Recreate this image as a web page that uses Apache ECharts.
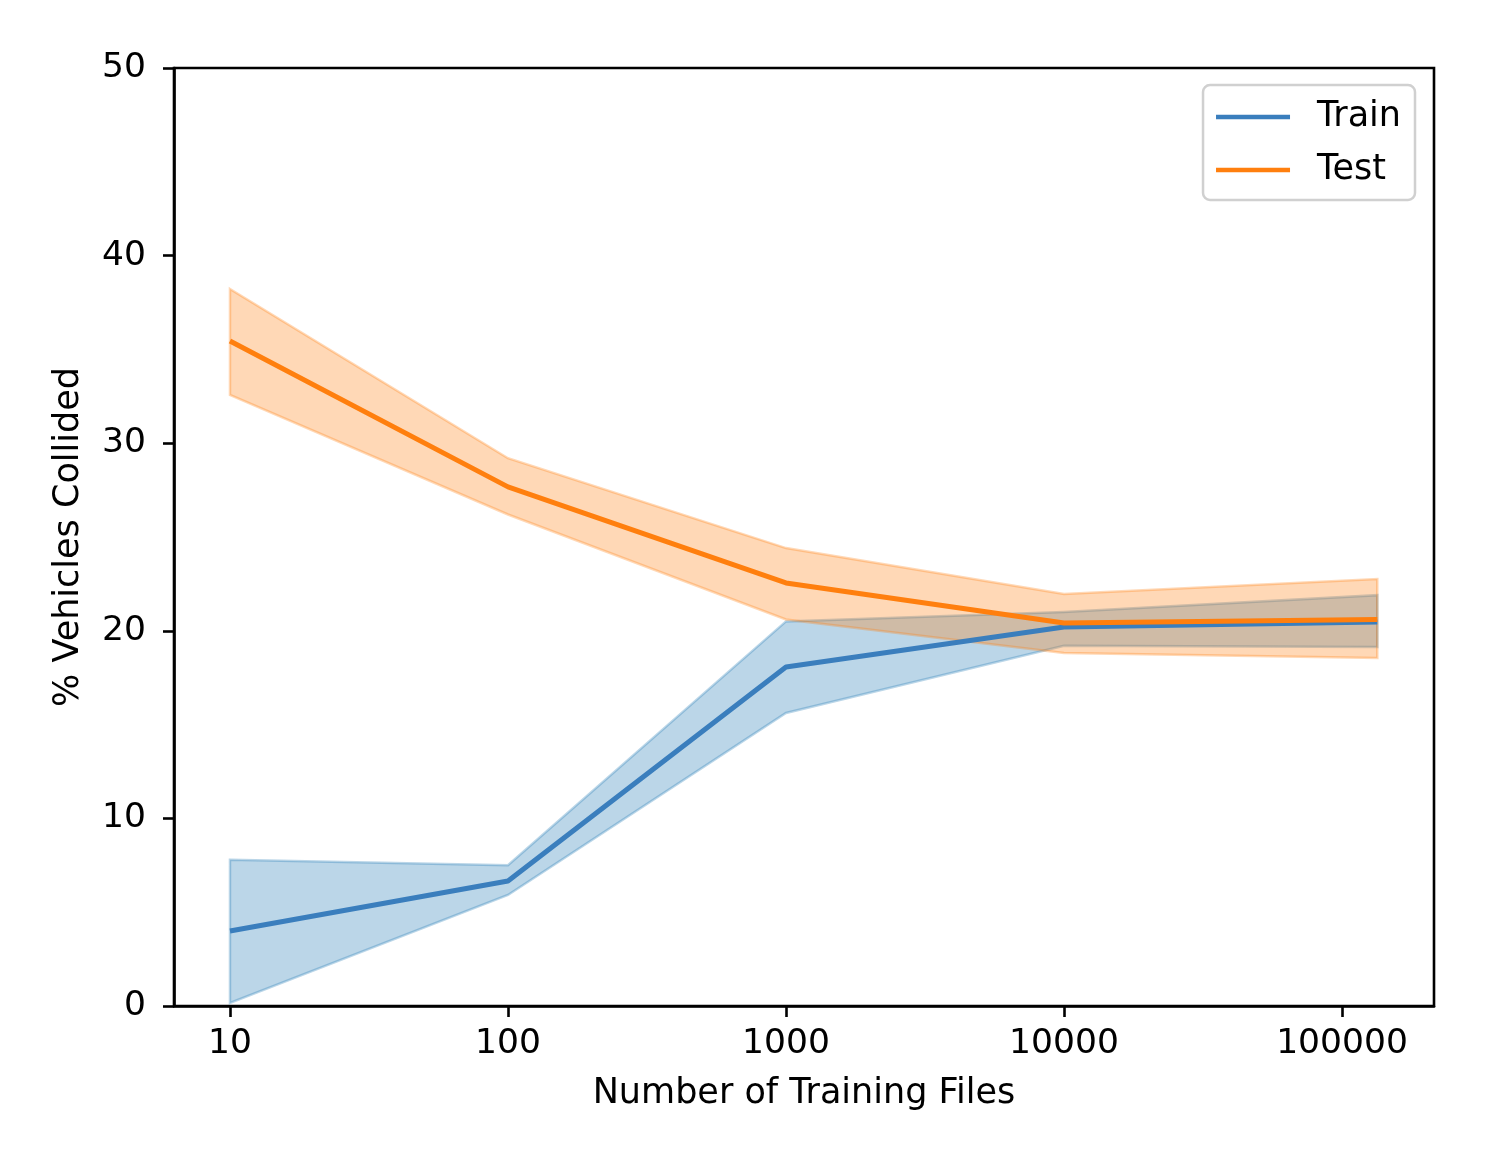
<!DOCTYPE html>
<html>
<head>
<meta charset="utf-8">
<script src="https://cdn.jsdelivr.net/npm/echarts@6/dist/echarts.min.js"></script>
<style>html,body{margin:0;padding:0;background:#fff}#c{width:1487px;height:1168px}</style>
</head>
<body>
<div id="c"></div>
<script>
const trainingFiles = [10, 100, 1000, 10000, 134000];
const xTicks = [10, 100, 1000, 10000, 100000];
const trainMean  = [4.0, 6.66, 18.07, 20.2, 20.47];
const trainUpper = [7.8, 7.5, 20.5, 21.0, 21.9];
const trainLower = [0.16, 5.92, 15.62, 19.2, 19.14];
const testMean   = [35.45, 27.67, 22.55, 20.42, 20.6];
const testUpper  = [38.22, 29.2, 24.41, 21.96, 22.76];
const testLower  = [32.57, 26.2, 20.6, 18.82, 18.55];

const FONT = 'DejaVu Sans';
const BLUE = '#3a7ebd', ORANGE = '#ff7f0e';

function bandSeries(name, upper, lower, rgb) {
  return {
    name: name, type: 'custom', z: 1, silent: true,
    data: [0],
    renderItem: function (params, api) {
      const pts = [];
      for (let i = 0; i < trainingFiles.length; i++) pts.push(api.coord([trainingFiles[i], upper[i]]));
      for (let i = trainingFiles.length - 1; i >= 0; i--) pts.push(api.coord([trainingFiles[i], lower[i]]));
      return {
        type: 'polygon', shape: { points: pts },
        style: { fill: 'rgba(' + rgb + ',0.3)', stroke: 'rgba(' + rgb + ',0.3)', lineWidth: 2.5 }
      };
    }
  };
}
function pairs(ys) { return trainingFiles.map((x, i) => [x, ys[i]]); }

const chart = echarts.init(document.getElementById('c'));
chart.setOption({
  animation: false,
  backgroundColor: '#fff',
  grid: { left: 174, right: 53, top: 68, bottom: 162, show: true, borderColor: '#000', borderWidth: 2.6, backgroundColor: 'transparent' },
  legend: {
    data: [{ name: 'Train', icon: 'rect' }, { name: 'Test', icon: 'rect' }],
    orient: 'vertical', right: 72, top: 85,
    itemWidth: 74, itemHeight: 4.5, itemGap: 17,
    padding: [14, 14, 12, 13],
    borderColor: '#d0d0d0', borderWidth: 2.5, borderRadius: 7, backgroundColor: '#fff',
    textStyle: { fontFamily: FONT, fontSize: 35, color: '#000', lineHeight: 36, padding: [0, 0, 0, 22] }
  },
  xAxis: {
    type: 'log', logBase: 10, min: 6.29, max: 214300,
    name: 'Number of Training Files', nameLocation: 'middle', nameGap: 70,
    nameTextStyle: { fontFamily: FONT, fontSize: 35, color: '#000' },
    axisLine: { lineStyle: { color: '#000', width: 2.6 } },
    axisTick: { show: true, length: 11, lineStyle: { color: '#000', width: 2.6 }, customValues: xTicks },
    axisLabel: { fontFamily: FONT, fontSize: 34.5, color: '#000', margin: 21, customValues: xTicks, formatter: v => String(Math.round(v)) },
    splitLine: { show: false }, minorTick: { show: false }
  },
  yAxis: {
    type: 'value', min: 0, max: 50, interval: 10,
    name: '% Vehicles Collided', nameLocation: 'middle', nameGap: 88, nameRotate: 90,
    nameTextStyle: { fontFamily: FONT, fontSize: 35, color: '#000' },
    axisLine: { show: true, lineStyle: { color: '#000', width: 2.6 } },
    axisTick: { show: true, length: 11, lineStyle: { color: '#000', width: 2.6 } },
    axisLabel: { fontFamily: FONT, fontSize: 34.5, color: '#000', margin: 28 },
    splitLine: { show: false }
  },
  series: [
    bandSeries('trainBand', trainUpper, trainLower, '31,119,180'),
    bandSeries('testBand', testUpper, testLower, '255,127,14'),
    { name: 'Train', type: 'line', z: 3, data: pairs(trainMean), showSymbol: false, color: BLUE, lineStyle: { color: BLUE, width: 5 } },
    { name: 'Test', type: 'line', z: 4, data: pairs(testMean), showSymbol: false, color: ORANGE, lineStyle: { color: ORANGE, width: 5 } }
  ]
});
</script>
</body>
</html>
